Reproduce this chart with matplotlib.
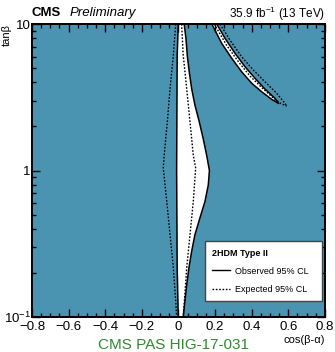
import numpy as np
import matplotlib
matplotlib.use('Agg')
import matplotlib.pyplot as plt
from matplotlib.lines import Line2D
from matplotlib.ticker import MultipleLocator, LogLocator, NullFormatter

plt.rcParams['font.family'] = ['Liberation Sans', 'DejaVu Sans']
plt.rcParams['mathtext.fontset'] = 'custom'
plt.rcParams['mathtext.rm'] = 'Liberation Sans'
plt.rcParams['mathtext.it'] = 'Liberation Sans:italic'

# DATA (cos(b-a) vs tanb contours)
# central band, observed
obs_left_tb = [10, 6.11, 1.0, 0.216, 0.1]
obs_left_c = [-0.001, -0.007, -0.010, -0.007, -0.001]
obs_right_tb = [10, 9.80, 7.94, 6.11, 4.70, 3.62, 2.79, 2.14, 1.65, 1.27, 1.0,
                0.80, 0.617, 0.474, 0.365, 0.281, 0.216, 0.166, 0.128, 0.1]
obs_right_c = [0.031, 0.032, 0.041, 0.048, 0.059, 0.072, 0.090, 0.114, 0.135, 0.154, 0.169,
               0.163, 0.145, 0.117, 0.090, 0.072, 0.057, 0.045, 0.035, 0.026]
# central band, expected
exp_left_tb = [10, 6.11, 3.62, 2.14, 1.27, 1.04, 0.617, 0.365, 0.216, 0.128, 0.1]
exp_left_c = [-0.015, -0.028, -0.046, -0.061, -0.078, -0.083, -0.064, -0.046, -0.028, -0.015, -0.010]
exp_right_tb = [10, 6.11, 3.62, 2.14, 1.27, 1.04, 0.617, 0.365, 0.216, 0.128, 0.1]
exp_right_c = [0.017, 0.026, 0.045, 0.063, 0.081, 0.094, 0.081, 0.063, 0.045, 0.032, 0.026]
# wrong-sign band, observed
ws_lo_tb = [10, 9.84, 7.38, 5.83, 4.72, 3.94, 3.45, 3.06, 2.88]
ws_lo_c = [0.182, 0.185, 0.236, 0.291, 0.345, 0.400, 0.454, 0.509, 0.545]
ws_hi_tb = [10, 7.99, 6.31, 5.12, 4.26, 3.60, 3.11, 2.88]
ws_hi_c = [0.209, 0.254, 0.309, 0.363, 0.418, 0.472, 0.527, 0.545]
# wrong-sign band, expected
ws_exp_in_tb = [10, 7.19, 5.51, 4.42, 3.72, 3.18, 2.86, 2.75]
ws_exp_in_c = [0.195, 0.262, 0.328, 0.390, 0.451, 0.511, 0.560, 0.591]
ws_exp_out_tb = [10, 7.78, 5.98, 4.85, 4.04, 3.37, 2.88, 2.75]
ws_exp_out_c = [0.227, 0.281, 0.345, 0.409, 0.472, 0.536, 0.581, 0.591]

teal = '#4a94b2'

fig = plt.figure(figsize=(3.35, 3.52), dpi=100)
ax = fig.add_axes([0.0955, 0.0994, 0.8745, 0.8324])
ax.set_facecolor(teal)

# allowed regions (white)
ax.fill(obs_left_c + obs_right_c[::-1], obs_left_tb + obs_right_tb[::-1], color='white', lw=0)
ax.fill(ws_lo_c + ws_hi_c[::-1], ws_lo_tb + ws_hi_tb[::-1], color='white', lw=0)

# observed contours
for c, tb in [(obs_left_c, obs_left_tb), (obs_right_c, obs_right_tb),
              (ws_lo_c, ws_lo_tb), (ws_hi_c, ws_hi_tb)]:
    ax.plot(c, tb, color='black', lw=1.1, solid_joinstyle='round')
# expected contours
for c, tb in [(exp_left_c, exp_left_tb), (exp_right_c, exp_right_tb),
              (ws_exp_in_c, ws_exp_in_tb), (ws_exp_out_c, ws_exp_out_tb)]:
    ax.plot(c, tb, color='black', lw=1.0, ls=(0, (1.2, 1.2)))

ax.set_xlim(-0.8, 0.8)
ax.set_yscale('log')
ax.set_ylim(0.1, 10)
ax.xaxis.set_minor_locator(MultipleLocator(0.05))
ax.yaxis.set_minor_locator(LogLocator(base=10, subs=np.arange(2, 10)))
ax.yaxis.set_minor_formatter(NullFormatter())
ax.set_xticks([-0.8, -0.6, -0.4, -0.2, 0, 0.2, 0.4, 0.6, 0.8])
ax.set_xticklabels(['\u22120.8', '\u22120.6', '\u22120.4', '\u22120.2', '0', '0.2', '0.4', '0.6', '0.8'])
ax.set_yticks([0.1, 1, 10])
ax.set_yticklabels(['10$^{-1}$', '1', '10'])
ax.tick_params(which='both', direction='in', top=True, right=True, labelsize=9.5, width=1)
ax.tick_params(which='major', length=6)
ax.tick_params(which='minor', length=3)
ax.tick_params(axis='x', pad=3)
ax.tick_params(axis='y', pad=1)
for s in ax.spines.values():
    s.set_linewidth(1.4)

ax.set_xlabel('cos(\u03b2-\u03b1)', loc='right', fontsize=8, labelpad=1)
ax.set_ylabel('tan\u03b2', loc='top', fontsize=8)
ax.yaxis.set_label_coords(-0.068, 1.0)

handles = [Line2D([], [], color='black', lw=1.0),
           Line2D([], [], color='black', lw=1.0, ls=(0, (1.2, 1.2)))]
leg = ax.legend(handles, ['Observed 95% CL', 'Expected 95% CL'], title='2HDM Type II',
                loc='lower left', bbox_to_anchor=(0.59, 0.055, 0.40, 0.19), mode='expand',
                borderaxespad=0,
                fontsize=6.5, title_fontproperties={'weight': 'bold', 'size': 6.5},
                frameon=True, fancybox=False, edgecolor='#444444', framealpha=1,
                handlelength=2.0, handletextpad=0.5, borderpad=0.8, labelspacing=1.0)
leg._legend_box.align = 'left'
leg.get_frame().set_linewidth(1.0)

fig.text(0.0955, 0.963, 'CMS', fontsize=9.5, fontweight='bold', va='center')
fig.text(0.209, 0.963, 'Preliminary', fontsize=9.5, style='italic', va='center')
fig.text(0.970, 0.960, '35.9 fb$^{-1}$ (13 TeV)', fontsize=8.5, ha='right', va='center')
fig.text(0.518, 0.020, 'CMS PAS HIG-17-031', fontsize=11, color='#2e8b2e', ha='center', va='center')

fig.savefig('out.png', dpi=100)
